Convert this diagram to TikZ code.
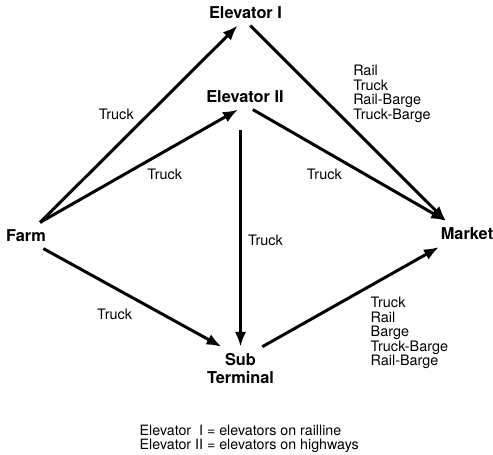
\documentclass[tikz,border=0pt]{standalone}
\usepackage{fontspec}
\setmainfont{TeX Gyre Heros}
\usepackage{tikz}
\usetikzlibrary{arrows.meta, positioning}

\begin{document}
\begin{tikzpicture}[
			x=0.02cm, y=-0.02cm,
			place/.style={font=\bfseries\fontsize{9.3}{9.8}\selectfont, align=center, inner sep=2pt, outer sep=2pt},
			mode/.style={font=\fontsize{8.2}{8.3}\selectfont, align=left, inner sep=2pt},
			route/.style={line width=1.7pt, -{Latex[length=3mm, width=2.3mm]}}
		]
		\useasboundingbox (0,0) rectangle (493,454);

		% Draw the places
		\node[place] (elevI) at (245.5,12.5) {Elevator I};
		\node[place] (elevII) at (245,96.5) {Elevator II};
		\node[place] (farm) at (26,235.5) {Farm};
		\node[place] (market) at (467,234) {Market};
		\node[place] (sub) at (240.5,368.5) {Sub\\Terminal};

		% Draw the routes
		\draw[route] (farm.43) -- node[mode, pos=0.55, left=2mm] {Truck} (elevI.-121);
		\draw[route] (farm.43) -- node[mode, pos=0.63, below=2.5mm] {Truck} (elevII.-118);
		\draw[route] (elevI.-70) -- node[mode, pos=0.35, right=5.9mm] {Rail\\Truck\\Rail-Barge\\Truck-Barge} (market.148);
		\draw[route] (elevII.-59) -- node[mode, pos=0.37, below=2.7mm] {Truck} (market.148);
		\draw[route, shorten <=0.4cm] (sub.north |- elevII.south) -- node[mode, pos=0.55, right=0.5mm] {Truck} (sub.north);
		\draw[route] (farm.-37) -- node[mode, pos=0.4, below=3.2mm] {Truck} (sub.131);
		\draw[route] (sub.45) -- node[mode, pos=0.585, below right=0.7mm and 0mm] {Truck\\Rail\\Barge\\Truck-Barge\\Rail-Barge} (market.-155);

		% Draw the legend
		\node[mode, anchor=west, font=\fontsize{8.1}{8.1}\selectfont] (legend) at (135.8,438.5)
			{Elevator \hphantom{I}I = elevators on railline\\Elevator II = elevators on highways};

		\end{tikzpicture}
\end{document}
